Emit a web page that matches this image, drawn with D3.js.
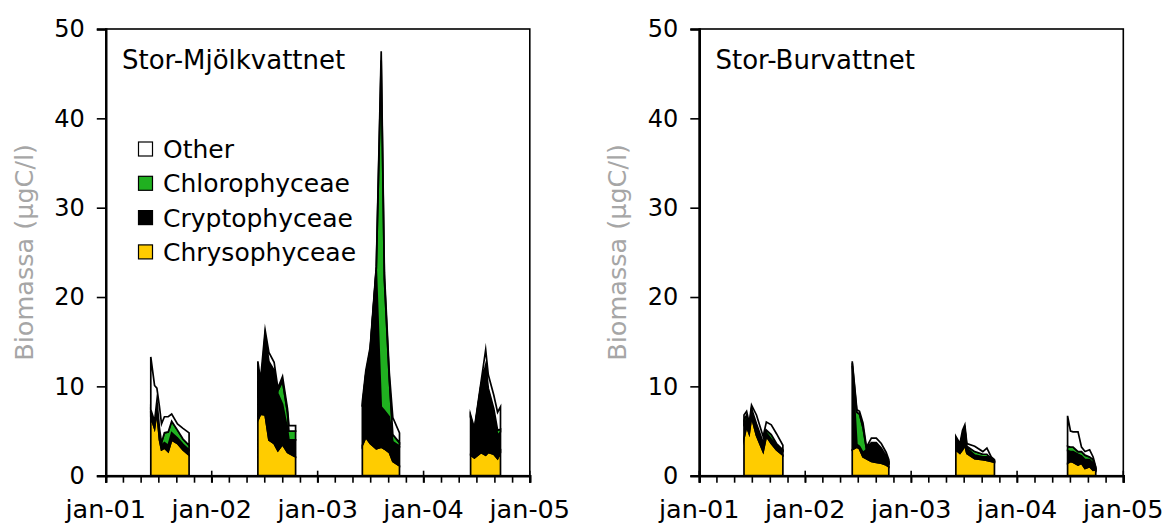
<!DOCTYPE html>
<html><head><meta charset="utf-8">
<script src="https://cdn.jsdelivr.net/npm/d3@7"></script>
<style>
body{margin:0;background:#fff}
svg{display:block}
text{font-family:"DejaVu Sans",Verdana,sans-serif}
</style>
</head><body>
<svg id="c" width="1169" height="525"></svg>
<script>
// ---------- data ----------
const categories = ["Chrysophyceae","Cryptophyceae","Chlorophyceae","Other"];
const legendOrder = ["Other","Chlorophyceae","Cryptophyceae","Chrysophyceae"];
const colors = {Chrysophyceae:"#FFCC00", Cryptophyceae:"#000000", Chlorophyceae:"#20B020", Other:"#FFFFFF"};
const yTicks = [0,10,20,30,40,50];
const xTickLabels = ["jan-01","jan-02","jan-03","jan-04","jan-05"];
const xTickDates = ["2001-01-01","2002-01-01","2003-01-01","2004-01-01","2005-01-01"];
const yTitle = "Biomassa (µgC/l)";

// Stor-Mjölkvattnet
const mjolkDates = [
 "2001-06-05","2001-06-18","2001-06-26","2001-07-05","2001-07-12","2001-07-22","2001-08-04","2001-08-16","2001-09-05","2001-09-24","2001-10-15",
 "2002-06-09","2002-06-18","2002-07-04","2002-07-17","2002-08-04","2002-08-17","2002-09-02","2002-09-19","2002-09-24","2002-10-17",
 "2003-06-04","2003-06-16","2003-07-01","2003-07-22","2003-08-08","2003-08-19","2003-09-05","2003-09-17","2003-10-10",
 "2004-06-11","2004-06-24","2004-07-17","2004-08-02","2004-08-11","2004-08-30","2004-09-12","2004-09-22"];
const mjolkChryso = [6.6,5.3,7.2,4.0,2.9,3.1,2.7,4.0,3.6,2.9,2.3,
 6.2,6.9,6.8,4.0,3.6,2.8,3.5,2.6,2.5,2.1,
 3.4,4.3,3.6,3.0,3.2,3.0,2.6,1.6,1.1,
 2.3,2.0,2.6,2.3,2.6,2.4,1.9,2.6];
const mjolkCrypto = [0.5,0.6,1.0,1.0,0.5,0.6,0.7,0.8,0.6,0.6,0.6,
 5.8,1.8,8.7,8.5,7.9,6.4,4.5,2.6,1.5,1.9,
 4.3,7.0,10.4,20.0,4.5,4.3,4.0,2.2,2.2,
 4.2,3.0,7.5,10.0,7.0,4.8,2.6,2.3];
const mjolkChloro = [0.3,0.2,0.2,0.3,0.3,1.1,1.5,1.3,0.9,0.6,0.5,
 0.3,0.9,0.3,0.3,0.3,0.3,2.6,1.9,1.0,1.0,
 0.1,0.1,0.1,0.2,38.8,14.7,4.2,0.8,0.4,
 0.1,0.1,0.1,0.1,0.2,0.3,0.6,0.3];
const mjolkOther = [5.9,4.0,1.4,2.4,2.1,1.8,1.7,0.8,0.7,1.2,1.4,
 0.5,1.1,0.5,1.0,0.9,0.3,0.5,0.4,0.6,0.6,
 0.5,0.4,0.3,0.2,1.0,0.7,0.7,1.9,1.1,
 0.2,0.2,0.3,1.7,1.5,1.5,2.0,2.5];

// Stor-Burvattnet
const burDates = [
 "2001-06-04","2001-06-13","2001-06-22","2001-06-30","2001-07-17","2001-08-09","2001-08-20","2001-09-06","2001-09-24","2001-10-16",
 "2002-06-12","2002-06-28","2002-07-07","2002-07-19","2002-07-31","2002-08-17","2002-09-03","2002-09-20","2002-10-07","2002-10-16",
 "2003-06-04","2003-06-18","2003-06-27","2003-07-05","2003-07-12","2003-08-08","2003-09-05","2003-09-19","2003-10-04","2003-10-15",
 "2004-06-23","2004-07-03","2004-07-12","2004-07-29","2004-08-10","2004-08-22","2004-09-07","2004-09-19","2004-09-28"];
const burChryso = [4.2,5.5,4.7,6.6,4.5,2.7,4.4,3.6,2.9,2.3,
 2.9,3.2,3.0,2.1,1.9,1.6,1.5,1.4,1.2,1.0,
 2.9,2.5,2.9,3.4,2.5,1.9,1.8,1.7,1.6,1.5,
 1.4,1.6,1.5,1.2,1.4,0.8,1.0,0.6,0.7];
const burCrypto = [1.6,0.8,0.6,0.8,1.0,0.8,0.4,0.5,0.5,0.5,
 9.4,0.3,0.3,0.5,1.0,2.0,2.1,1.6,0.9,0.5,
 1.0,0.6,1.6,1.8,0.6,0.4,0.3,0.4,0.2,0.1,
 1.4,1.1,1.2,1.2,0.8,1.0,0.8,0.8,0.1];
const burChloro = [0.4,0.5,0.2,0.1,0.3,0.2,0.3,0.5,0.2,0.1,
 0.3,3.6,3.6,2.8,0.1,0.1,0.1,0.1,0.1,0.1,
 0.2,0.2,0.2,0.1,0.2,0.4,0.3,0.3,0.1,0.1,
 0.5,0.5,0.5,0.3,0.5,0.5,0.3,0.4,0.1];
const burOther = [0.6,0.4,0.4,0.4,1.0,0.7,0.9,1.1,1.1,0.5,
 0.2,0.3,0.3,0.5,0.2,0.5,0.5,0.5,0.4,0.2,
 0.3,0.3,0.4,0.4,0.3,0.6,0.3,0.7,0.2,0.1,
 3.4,1.8,1.7,2.2,0.5,0.4,0.8,0.3,0.1];

// ---------- drawing ----------
const parse = d3.timeParse("%Y-%m-%d");
const svg = d3.select("#c");

function buildRows(dates, chr, cry, chl, oth){
  return dates.map((d,i)=>({date:parse(d), Chrysophyceae:chr[i], Cryptophyceae:cry[i], Chlorophyceae:chl[i], Other:oth[i]}));
}

const panels = [
  {title:"Stor-Mjölkvattnet", dx:0, legend:true, rows:buildRows(mjolkDates,mjolkChryso,mjolkCrypto,mjolkChloro,mjolkOther)},
  {title:"Stor-Burvattnet", dx:593.5, legend:false, rows:buildRows(burDates,burChryso,burCrypto,burChloro,burOther)}
];

const L = 105.8, R = 529.8, T = 29, B = 475.7;

panels.forEach(p=>{
  const g = svg.append("g").attr("transform",`translate(${p.dx},0)`);
  const x = d3.scaleTime().domain([parse(xTickDates[0]), parse(xTickDates[4])]).range([L,R]);
  const y = d3.scaleLinear().domain([0,50]).range([B,T]);

  // frame
  g.append("rect").attr("x",L).attr("y",T).attr("width",R-L).attr("height",B-T)
    .attr("fill","none").attr("stroke","#000").attr("stroke-width",1.6);

  // stacked areas per season
  const seasons = d3.groups(p.rows, d=>d.date.getFullYear());
  const stack = d3.stack().keys(categories);
  const area = d3.area().x(d=>x(d.data.date)).y0(d=>y(d[0])).y1(d=>y(d[1]));
  seasons.forEach(([yr, rows])=>{
    const layers = stack(rows);
    layers.forEach(layer=>{
      g.append("path").datum(layer).attr("d",area)
        .attr("fill",colors[layer.key]).attr("stroke","#000")
        .attr("stroke-width",1.7).attr("stroke-linejoin","miter").attr("stroke-miterlimit",10);
    });
  });

  // y axis
  const ya = g.append("g").attr("transform",`translate(${L},0)`)
    .call(d3.axisLeft(y).tickValues(yTicks).tickSize(9).tickPadding(12));
  ya.select(".domain").attr("stroke-width",2.4);
  ya.selectAll(".tick line").attr("stroke-width",1.6);
  ya.selectAll(".tick text").attr("font-size",24).attr("fill","#000")
    .attr("font-family","'DejaVu Sans',Verdana,sans-serif");

  // x axis minor ticks (every 2 months)
  const minor = d3.timeMonth.every(2).range(parse(xTickDates[0]), d3.timeDay.offset(parse(xTickDates[4]),1));
  const xa = g.append("g").attr("transform",`translate(0,${B})`)
    .call(d3.axisBottom(x).tickValues(minor).tickSize(7).tickFormat(""));
  xa.select(".domain").attr("stroke-width",2.4);
  xa.selectAll(".tick line").attr("stroke-width",1.6);
  // major year ticks crossing axis
  g.selectAll(".ymaj").data(xTickDates).join("line")
    .attr("x1",d=>x(parse(d))).attr("x2",d=>x(parse(d)))
    .attr("y1",B-5).attr("y2",B+7).attr("stroke","#000").attr("stroke-width",1.6);
  g.selectAll(".xlab").data(xTickDates).join("text")
    .attr("x",d=>x(parse(d))).attr("y",518).attr("text-anchor","middle")
    .attr("font-size",25.5).attr("fill","#000")
    .text((d,i)=>xTickLabels[i]);

  // y title
  g.append("text").attr("transform",`translate(24,${(T+B)/2}) rotate(-90)`)
    .attr("text-anchor","middle").attr("dy","0.35em")
    .attr("font-size",25.5).attr("fill","#a6a6a6").text(yTitle);

  // panel title
  g.append("text").attr("x",122).attr("y",69).attr("font-size",26).attr("fill","#000").text(p.title);

  // legend
  if(p.legend){
    const lg = g.append("g");
    legendOrder.forEach((k,i)=>{
      const cy = 149 + i*34.3;
      lg.append("rect").attr("x",138.5).attr("y",cy-7).attr("width",14).attr("height",14)
        .attr("fill",colors[k]).attr("stroke","#000").attr("stroke-width",1.2);
      lg.append("text").attr("x",163).attr("y",cy).attr("dy","0.36em")
        .attr("font-size",25).attr("fill","#000").text(k);
    });
  }
});
</script>
</body></html>
